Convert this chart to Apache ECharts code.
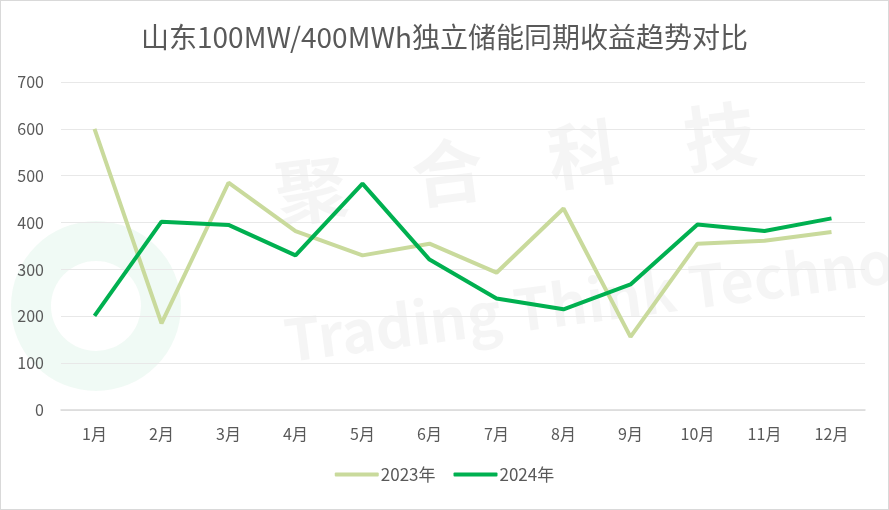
<!DOCTYPE html>
<html>
<head>
<meta charset="utf-8">
<style>
  html, body { margin: 0; padding: 0; background: #fff; }
  #main { width: 887px; height: 508px; border: 1px solid #d9d9d9; }
</style>
<script src="https://cdn.jsdelivr.net/npm/echarts@6/dist/echarts.min.js"></script>
</head>
<body>
<div id="main"></div>
<script>
  const months = ['1月','2月','3月','4月','5月','6月','7月','8月','9月','10月','11月','12月'];
  const data2023 = [600, 185, 485, 382, 330, 355, 293, 430, 156, 355, 361, 380];
  const data2024 = [201, 402, 395, 330, 483, 321, 238, 215, 268, 396, 382, 409];
  const yTicks = { min: 0, max: 700, interval: 100 };

  var chart = echarts.init(document.getElementById('main'));
  const font = '"Noto Sans CJK SC", "Noto Sans", sans-serif';
  const option = {
    backgroundColor: '#fff',
    textStyle: { fontFamily: font },
    title: {
      text: '山东100MW/400MWh独立储能同期收益趋势对比',
      left: 'center',
      top: 17,
      textStyle: { fontSize: 28, fontWeight: 'normal', color: '#595959', fontFamily: font }
    },
    // 背景水印
    graphic: [
      {
        type: 'ring', z: -2, silent: true,
        shape: { cx: 95, cy: 305, r: 85, r0: 45 },
        style: { fill: 'rgba(0,176,80,0.06)' }
      },
      {
        type: 'text', left: 270, top: 95, rotation: 0.13, z: -1, silent: true,
        style: { text: '聚    合    科    技', fontSize: 72, fontWeight: 'bold', fill: 'rgba(0,0,0,0.04)', fontFamily: font }
      },
      {
        type: 'text', left: 280, top: 215, rotation: 0.13, z: -1, silent: true,
        style: { text: 'Trading Think Technology', fontSize: 58, fontWeight: 'bold', fill: 'rgba(0,0,0,0.04)', fontFamily: font }
      }
    ],
    grid: { left: 60, right: 23, top: 81, bottom: 99 },
    legend: {
      data: ['2023年', '2024年'],
      bottom: 21,
      itemWidth: 44,
      itemHeight: 4,
      itemGap: 18,
      icon: 'roundRect',
      textStyle: { fontSize: 17, color: '#595959', padding: [0, 0, 0, -3] }
    },
    xAxis: {
      type: 'category',
      data: months,
      boundaryGap: true,
      axisLine: { lineStyle: { color: '#d9d9d9', width: 1.5 } },
      axisTick: { show: false },
      axisLabel: { fontSize: 16, color: '#595959', margin: 16 }
    },
    yAxis: {
      type: 'value',
      min: yTicks.min,
      max: yTicks.max,
      interval: yTicks.interval,
      axisLine: { show: false },
      axisTick: { show: false },
      axisLabel: { fontSize: 16, color: '#595959', margin: 17 },
      splitLine: { lineStyle: { color: '#e8e8e8', width: 1 } }
    },
    series: [
      {
        name: '2023年', type: 'line', data: data2023,
        symbol: 'none', color: '#c9da9c',
        lineStyle: { width: 4, color: '#c9da9c' }
      },
      {
        name: '2024年', type: 'line', data: data2024,
        symbol: 'none', color: '#00b050',
        lineStyle: { width: 4, color: '#00b050' }
      }
    ]
  };
  chart.setOption(option);
</script>
</body>
</html>
